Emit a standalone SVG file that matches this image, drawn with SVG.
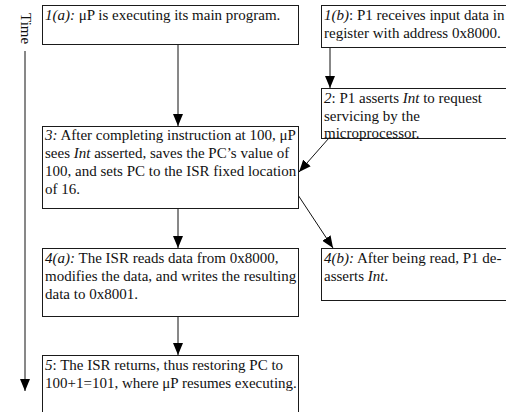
<svg xmlns="http://www.w3.org/2000/svg" width="506" height="412" viewBox="0 0 506 412">
  <defs>
    <style>
      .box { fill: #ffffff; stroke: #1a1a1a; stroke-width: 1; }
      .txt { font-family: "Liberation Serif", "Times New Roman", serif; font-size: 15px; fill: #111111; }
      .it { font-style: italic; }
      .wire { stroke: #111111; stroke-width: 1; fill: none; }
    </style>
    <marker id="head" markerWidth="12" markerHeight="10" refX="12" refY="5" orient="auto" markerUnits="userSpaceOnUse">
      <path d="M0,0 L12,5 L0,10 Z" fill="#000000"/>
    </marker>
  </defs>
  <rect width="506" height="412" fill="#ffffff"/>

  <!-- time axis -->
  <g id="time-axis">
    <text class="txt" transform="translate(21,13) rotate(90)">Time</text>
    <line class="wire" x1="25" y1="51" x2="25" y2="391" marker-end="url(#head)"/>
  </g>

  <!-- connectors -->
  <g id="connectors">
    <line class="wire" x1="178" y1="44" x2="178" y2="126" marker-end="url(#head)"/>
    <line class="wire" x1="330" y1="48" x2="330" y2="88" marker-end="url(#head)"/>
    <line class="wire" x1="329" y1="138" x2="299" y2="172" marker-end="url(#head)"/>
    <line class="wire" x1="178" y1="209" x2="178" y2="248" marker-end="url(#head)"/>
    <line class="wire" x1="298" y1="195" x2="333" y2="248" marker-end="url(#head)"/>
    <line class="wire" x1="178" y1="317" x2="178" y2="355" marker-end="url(#head)"/>
  </g>

  <g id="step-1a">
    <rect class="box" x="42.5" y="5.5" width="256" height="39"/>
    <text class="txt" x="45" y="20"><tspan class="it">1(a):</tspan> μP is executing its main program.</text>
  </g>

  <g id="step-1b">
    <rect class="box" x="321.5" y="5.5" width="256" height="42"/>
    <text class="txt" x="324" y="20"><tspan class="it">1(b)</tspan>: P1 receives input data in</text>
    <text class="txt" x="324" y="38">register with address 0x8000.</text>
  </g>

  <g id="step-2">
    <rect class="box" x="321.5" y="88.5" width="256" height="50"/>
    <text class="txt" x="324" y="103"><tspan class="it">2</tspan>: P1 asserts <tspan class="it">Int</tspan> to request</text>
    <text class="txt" x="324" y="121">servicing by the</text>
    <text class="txt" x="324" y="138">microprocessor.</text>
  </g>

  <g id="step-3">
    <rect class="box" x="42.5" y="126.5" width="256" height="82"/>
    <text class="txt" x="45" y="140"><tspan class="it">3:</tspan> After completing instruction at 100, μP</text>
    <text class="txt" x="45" y="158">sees <tspan class="it">Int</tspan> asserted, saves the PC’s value of</text>
    <text class="txt" x="45" y="176">100, and sets PC to the ISR fixed location</text>
    <text class="txt" x="45" y="194">of 16.</text>
  </g>

  <g id="step-4a">
    <rect class="box" x="42.5" y="248.5" width="256" height="68"/>
    <text class="txt" x="45" y="263"><tspan class="it">4(a):</tspan> The ISR reads data from 0x8000,</text>
    <text class="txt" x="45" y="281">modifies the data, and writes the resulting</text>
    <text class="txt" x="45" y="299">data to 0x8001.</text>
  </g>

  <g id="step-4b">
    <rect class="box" x="321.5" y="248.5" width="256" height="52"/>
    <text class="txt" x="324" y="263"><tspan class="it">4(b):</tspan> After being read, P1 de-</text>
    <text class="txt" x="324" y="281">asserts <tspan class="it">Int</tspan>.</text>
  </g>

  <g id="step-5">
    <rect class="box" x="42.5" y="355.5" width="256" height="80"/>
    <text class="txt" x="45" y="370"><tspan class="it">5</tspan>: The ISR returns, thus restoring PC to</text>
    <text class="txt" x="45" y="388">100+1=101, where μP resumes executing.</text>
  </g>
</svg>
